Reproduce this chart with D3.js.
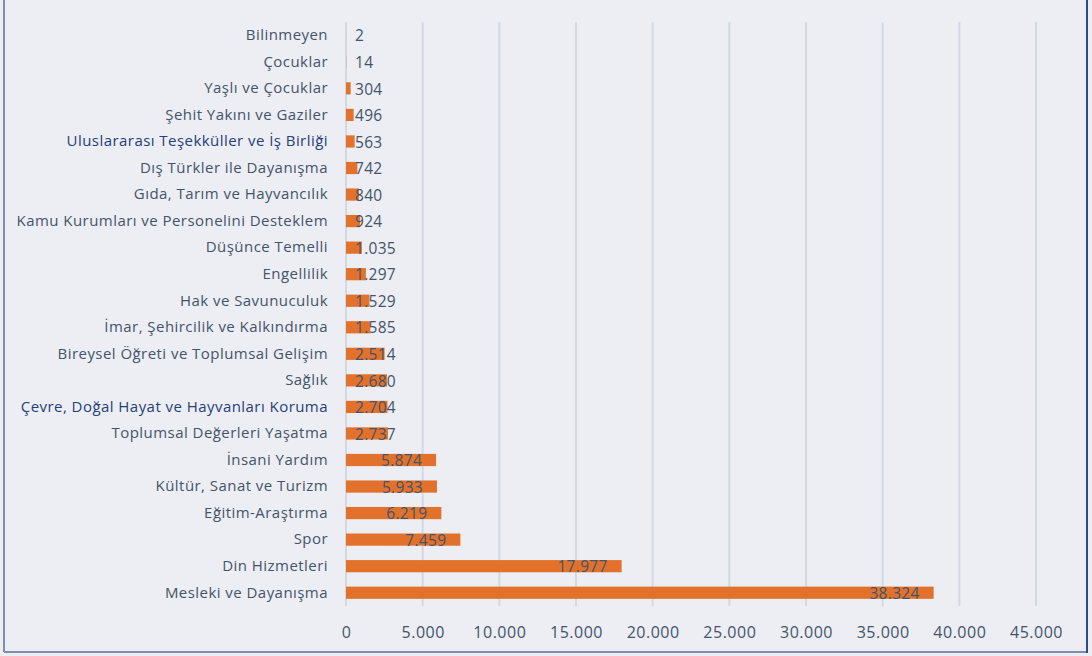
<!DOCTYPE html>
<html>
<head>
<meta charset="utf-8">
<script src="https://cdn.jsdelivr.net/npm/d3@7"></script>
<style>
  body { margin: 0; background: #eceef3; }
  svg { display: block; }
  text { font-family: "Open Sans", sans-serif; fill: #44546a; }
</style>
</head>
<body>
<svg id="chart" width="1092" height="656"></svg>
<script>
var categories = [
  "Bilinmeyen", "Çocuklar", "Yaşlı ve Çocuklar", "Şehit Yakını ve Gaziler",
  "Uluslararası Teşekküller ve İş Birliği", "Dış Türkler ile Dayanışma",
  "Gıda, Tarım ve Hayvancılık", "Kamu Kurumları ve Personelini Desteklem",
  "Düşünce Temelli", "Engellilik", "Hak ve Savunuculuk",
  "İmar, Şehircilik ve Kalkındırma", "Bireysel Öğreti ve Toplumsal Gelişim",
  "Sağlık", "Çevre, Doğal Hayat ve Hayvanları Koruma",
  "Toplumsal Değerleri Yaşatma", "İnsani Yardım", "Kültür, Sanat ve Turizm",
  "Eğitim-Araştırma", "Spor", "Din Hizmetleri", "Mesleki ve Dayanışma"
];
var values = [2, 14, 304, 496, 563, 742, 840, 924, 1035, 1297, 1529, 1585,
  2514, 2680, 2704, 2737, 5874, 5933, 6219, 7459, 17977, 38324];
var tickValues = [0, 5000, 10000, 15000, 20000, 25000, 30000, 35000, 40000, 45000];
var blueLabels = ["Uluslararası Teşekküller ve İş Birliği", "Çevre, Doğal Hayat ve Hayvanları Koruma"];

var svg = d3.select('#chart');
var W = 1092, H = 656;

var fmt = function( v ) { return d3.format(',')( v ).replace(/,/g, '.'); };

var x = d3.scaleLinear().domain([0, 45000]).range([346, 1036]);
var y = d3.scaleBand().domain(categories).range([22, 606]).paddingInner(0.54).paddingOuter(0.27);

// frame
svg.append('rect').attr('width', W).attr('height', H).attr('fill', '#eceef3');
svg.append('line').attr('x1', 4).attr('y1', 0).attr('x2', 4).attr('y2', 652)
  .attr('stroke', '#7f8fab').attr('stroke-width', 2);
svg.append('line').attr('x1', 4).attr('y1', 652).attr('x2', 1087).attr('y2', 652)
  .attr('stroke', '#7f8fab').attr('stroke-width', 2);
svg.append('line').attr('x1', 1087).attr('y1', 0).attr('x2', 1087).attr('y2', 653)
  .attr('stroke', '#2d4c8c').attr('stroke-width', 2);

// gridlines
svg.append('g').selectAll('line').data(tickValues).enter().append('line')
  .attr('x1', function(d) { return x(d); })
  .attr('x2', function(d) { return x(d); })
  .attr('y1', 22).attr('y2', 606)
  .attr('stroke', '#d3d9e3').attr('stroke-width', 2);

// x axis labels
var xAxis = d3.axisBottom(x).tickValues(tickValues).tickSize(0).tickPadding(0).tickFormat(fmt);
var ax = svg.append('g').attr('transform', 'translate(0,638)').call(xAxis);
ax.select('.domain').remove();
ax.selectAll('text').attr('dy', 0).style('font-size', '16px').style('fill', '#44546a')
  .style('letter-spacing', '0.5px')
  .style('font-family', '"Open Sans", sans-serif');

// y labels
var yAxis = d3.axisLeft(y).tickSize(0).tickPadding(0);
var ay = svg.append('g').attr('transform', 'translate(328,0)').call(yAxis);
ay.select('.domain').remove();
ay.selectAll('text').style('font-size', '15px')
  .style('letter-spacing', '0.45px')
  .style('font-family', '"Open Sans", sans-serif')
  .style('fill', function(d) { return blueLabels.indexOf(d) >= 0 ? '#25407a' : '#44546a'; });

// bars
var rows = categories.map(function( c, i ) { return { name: c, value: values[i] }; });

svg.append('g').selectAll('rect').data(rows).enter().append('rect')
  .attr('x', x(0))
  .attr('y', function(d) { return y(d.name); })
  .attr('width', function(d) { return x(d.value) - x(0); })
  .attr('height', y.bandwidth())
  .attr('fill', '#e2722b');

// value labels
var labels = svg.append('g').selectAll('text').data(rows).enter().append('text')
  .attr('y', function(d) { return y(d.name) + y.bandwidth() / 2; })
  .attr('dy', '0.4em')
  .style('font-size', '15.5px')
  .style('letter-spacing', '0.3px')
  .text(function(d) { return fmt(d.value); });

labels.attr('x', function(d) {
  var w = this.getComputedTextLength();
  return Math.max(x(d.value) - 14 - w, x(0) + 9);
});
</script>
</body>
</html>
